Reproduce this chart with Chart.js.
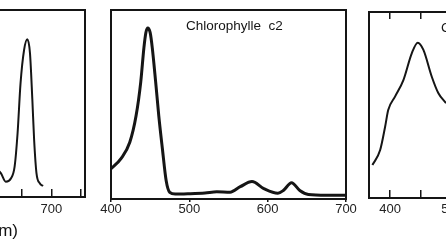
<!DOCTYPE html>
<html>
<head>
<meta charset="utf-8">
<script src="https://cdn.jsdelivr.net/npm/chart.js@4.4.1/dist/chart.umd.min.js"></script>
<style>
  html, body { margin: 0; padding: 0; background: #fff; }
  body { width: 446px; height: 249px; overflow: hidden; position: relative; }
  .panel { position: absolute; top: 0; height: 249px; }
  #leftPanel { left: -150px; width: 250px; }
  #centerPanel { left: 95px; width: 265px; }
  #rightPanel { left: 360px; width: 240px; }
  #axisLabel {
    position: absolute; right: 428px; top: 221px;
    font: 17px "Liberation Sans", Arial, sans-serif; line-height: 20px;
    color: #111; white-space: nowrap;
  }
</style>
</head>
<body>
<div class="panel" id="leftPanel"><canvas id="chlA"></canvas></div>
<div class="panel" id="centerPanel"><canvas id="chlC2"></canvas></div>
<div class="panel" id="rightPanel"><canvas id="carot"></canvas></div>
<div id="axisLabel">Longueur d'onde (nm)</div>
<script>
// Absorption spectra (wavelength in nm, relative absorbance 0-100)
const chlAWavelengths = [608, 615, 623, 632, 638, 643, 648, 654, 659.5, 664, 668, 671, 675, 680.5, 686];
const chlAAbsorbance  = [15, 12.6, 8.2, 10, 16.2, 34, 60.6, 78.4, 84.1, 76.6, 51.7, 30.4, 12.6, 7.3, 5.9];

const chlC2Wavelengths = [400, 413, 424, 432, 438, 442, 444.5, 447, 450, 452.7, 457, 461, 465.5, 470.5, 475, 482,
                          500, 520, 535, 552, 565, 580, 595, 613, 620, 630.5, 641, 652, 675, 700];
const chlC2Absorbance  = [16, 21.5, 30, 44, 62, 80, 88, 90.5, 88, 80, 62, 44, 27, 9.5, 3.5, 2.6,
                          2.8, 3.2, 3.8, 3.6, 6.5, 9.2, 5.5, 3.0, 4.5, 8.6, 4.5, 2.4, 2.0, 2.0];

const carotWavelengths = [371.5, 384, 392, 397, 408, 421.5, 435, 444.7, 453.8, 467.3, 478, 490.3];
const carotAbsorbance  = [17.7, 25.8, 38.3, 47.3, 54.5, 63.4, 77.8, 83.5, 79.6, 65.2, 56.3, 51];

// tick marks and labelled ticks for each panel
const chlATicks = [400, 450, 500, 550, 600, 650, 700, 750];
const chlALabels = [400, 700];
const chlC2Ticks = [400, 500, 600, 700];
const chlC2Labels = [400, 500, 600, 700];
const carotTicks = [400, 450, 500, 550, 600, 650, 700];
const carotLabels = [400, 500, 600, 700];

const inkColor = '#151515';
const tickFont = { family: '"Liberation Sans", Arial, sans-serif', size: 13 };

// Draws a panel title inside the plot box
const innerTitle = {
  id: 'innerTitle',
  afterDraw(chart, args, opts) {
    if (!opts.text) return;
    const { ctx, chartArea } = chart;
    ctx.save();
    ctx.font = opts.font;
    ctx.fillStyle = inkColor;
    ctx.textAlign = 'left';
    ctx.textBaseline = 'middle';
    ctx.fillText(opts.text, chartArea.left + opts.dx, chartArea.top + opts.dy);
    ctx.restore();
  }
};

function toPoints(xs, ys) {
  return xs.map((x, i) => ({ x: x, y: ys[i] }));
}

function frameAxis(position) {
  return {
    position: position,
    display: true,
    ticks: { display: false },
    grid: { display: false, drawTicks: false },
    border: { display: true, width: 2, color: inkColor },
    afterFit: s => { if (position === 'top') s.height = 0; else s.width = 0; }
  };
}

function makeChart(id, cfg) {
  const xOpts = {
    type: 'linear',
    position: 'bottom',
    min: cfg.min,
    max: cfg.max,
    afterBuildTicks: s => { s.ticks = cfg.tickValues.map(v => ({ value: v })); },
    ticks: {
      font: tickFont,
      color: '#222',
      padding: cfg.labelPad,
      maxRotation: 0,
      autoSkip: false,
      callback: v => (cfg.labelValues.includes(v) ? String(v) : '')
    },
    grid: {
      display: true,
      drawOnChartArea: false,
      drawTicks: true,
      tickLength: cfg.tickLength,
      lineWidth: 1.5,
      color: inkColor
    },
    border: { display: true, width: 2, color: inkColor },
    afterFit: s => { s.height = 30; }
  };

  const topAxis = frameAxis('top');
  topAxis.type = 'linear';
  topAxis.min = cfg.min;
  topAxis.max = cfg.max;
  if (cfg.topTicks) {
    topAxis.afterBuildTicks = s => { s.ticks = cfg.tickValues.map(v => ({ value: v })); };
    topAxis.grid = { display: true, drawOnChartArea: false, drawTicks: true, tickLength: -7, lineWidth: 1.5, color: inkColor };
  }

  return new Chart(document.getElementById(id), {
    type: 'line',
    data: {
      datasets: [{
        data: toPoints(cfg.xs, cfg.ys),
        borderColor: inkColor,
        borderWidth: cfg.lineWidth,
        pointRadius: 0,
        fill: false,
        cubicInterpolationMode: 'monotone'
      }]
    },
    options: {
      responsive: true,
      maintainAspectRatio: false,
      animation: false,
      layout: { padding: cfg.padding },
      plugins: {
        legend: { display: false },
        tooltip: { enabled: false },
        innerTitle: cfg.title || {}
      },
      scales: {
        x: xOpts,
        x2: topAxis,
        y: Object.assign(frameAxis('left'), { min: 0, max: 100 }),
        y2: Object.assign(frameAxis('right'), { min: 0, max: 100 })
      }
    },
    plugins: [innerTitle]
  });
}

// Chlorophylle a (partly visible, left)
makeChart('chlA', {
  xs: chlAWavelengths, ys: chlAAbsorbance,
  min: 400, max: 757,
  tickValues: chlATicks, labelValues: chlALabels,
  tickLength: -8, labelPad: 13,
  lineWidth: 2,
  padding: { left: 21, right: 15, top: 9.5, bottom: 22 }
});

// Chlorophylle c2 (centre)
makeChart('chlC2', {
  xs: chlC2Wavelengths, ys: chlC2Absorbance,
  min: 400, max: 700,
  tickValues: chlC2Ticks, labelValues: chlC2Labels,
  tickLength: 3, labelPad: 0,
  lineWidth: 3,
  padding: { left: 16, right: 14, top: 10, bottom: 20 },
  title: { text: 'Chlorophylle  c2', font: '13.5px "Liberation Sans", Arial, sans-serif', dx: 75, dy: 16 }
});

// Caroténoïdes (partly visible, right)
makeChart('carot', {
  xs: carotWavelengths, ys: carotAbsorbance,
  min: 366, max: 700,
  tickValues: carotTicks, labelValues: carotLabels,
  tickLength: -8, labelPad: 12,
  lineWidth: 2,
  topTicks: true,
  padding: { left: 9, right: 24, top: 12, bottom: 21 },
  title: { text: 'Caroténoïdes', font: '13.5px "Liberation Sans", Arial, sans-serif', dx: 72, dy: 16 }
});
</script>
</body>
</html>
